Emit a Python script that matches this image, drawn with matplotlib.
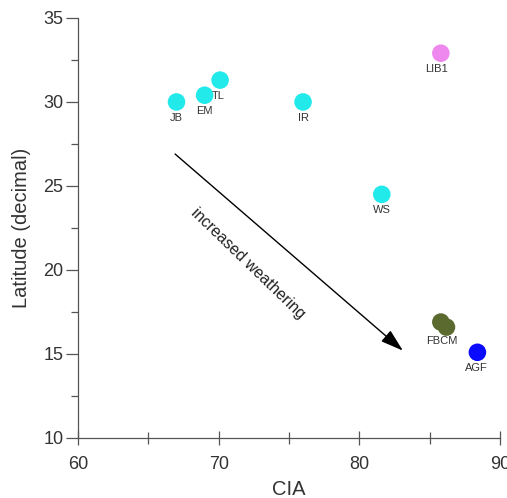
import matplotlib
matplotlib.use("Agg")
import matplotlib.pyplot as plt
from matplotlib.ticker import MultipleLocator

plt.rcParams['font.family'] = ['Liberation Sans', 'DejaVu Sans']

cia = [67.0, 69.0, 70.1, 76.0, 81.6, 85.8, 85.8, 86.2, 88.4]
lat = [30.0, 30.4, 31.3, 30.0, 24.5, 32.9, 16.9, 16.6, 15.1]
colors = ["#22eaea", "#22eaea", "#22eaea", "#22eaea", "#22eaea",
          "#ee88ee", "#5b6b2f", "#5b6b2f", "#0a0aff"]
label_names = ["JB", "EM", "TL", "IR", "WS", "LIB1", "FBCM", "AGF"]
label_x = [67.0, 69.0, 70.1, 76.0, 81.6, 85.8, 85.9, 88.4]
label_y = [30.0, 30.4, 31.3, 30.0, 24.5, 32.9, 16.9, 15.1]
label_off = [(0, -16), (0, -16), (-2, -16), (0, -16), (0, -16), (-4, -16), (0, -19), (-1, -16)]

arrow_start = (66.9, 26.9)
arrow_end = (83.1, 15.2)

fig = plt.figure(figsize=(5.07, 4.98), dpi=100)
ax = fig.add_axes([0.154, 0.1205, 0.832, 0.8435])

ax.scatter(cia, lat, s=160, c=colors, edgecolors="none", zorder=3)

for n, x, y, off in zip(label_names, label_x, label_y, label_off):
    ax.annotate(n, (x, y), xytext=off, textcoords="offset pixels",
                ha="center", va="center", fontsize=8, color="#333333")

ax.annotate("", xy=arrow_end, xytext=arrow_start,
            arrowprops=dict(arrowstyle="-|>,head_length=0.7,head_width=0.22",
                            color="black", lw=1.0,
                            mutation_scale=20, shrinkA=0, shrinkB=0))
ax.text(72.1, 20.4, "increased weathering", rotation=-44, rotation_mode="anchor",
        ha="center", va="center", fontsize=11.5, color="#222222")

ax.set_xlim(60, 90)
ax.set_ylim(10, 35)
ax.xaxis.set_major_locator(MultipleLocator(10))
ax.xaxis.set_minor_locator(MultipleLocator(5))
ax.yaxis.set_major_locator(MultipleLocator(5))
ax.yaxis.set_minor_locator(MultipleLocator(2.5))
for s in ["top", "right"]:
    ax.spines[s].set_visible(False)
for s in ["left", "bottom"]:
    ax.spines[s].set_color("#555555")
    ax.spines[s].set_linewidth(0.9)
ax.tick_params(axis="x", which="major", direction="inout", length=10, width=0.9,
               colors="#555555", labelsize=13, labelcolor="#333333", pad=8)
ax.tick_params(axis="x", which="minor", direction="inout", length=8, width=0.9, colors="#555555")
ax.tick_params(axis="y", which="major", direction="out", length=9, width=0.9,
               colors="#555555", labelsize=13, labelcolor="#333333", pad=1.5)
ax.tick_params(axis="y", which="minor", direction="out", length=5, width=0.9, colors="#555555")

ax.set_xlabel("CIA", fontsize=14.5, color="#333333", labelpad=5)
ax.set_ylabel("Latitude (decimal)", fontsize=14.5, color="#333333", labelpad=9)

fig.savefig("out.png", dpi=100)
